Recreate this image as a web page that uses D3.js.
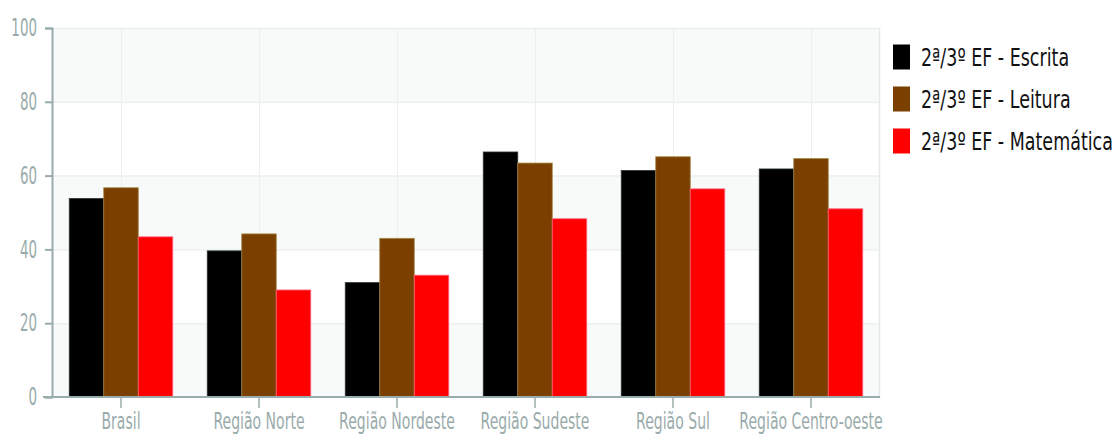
<!DOCTYPE html>
<html>
<head>
<meta charset="utf-8">
<script src="https://cdn.jsdelivr.net/npm/d3@7"></script>
<style>
  body { margin: 0; background: #fff; }
  svg { display: block; font-family: "DejaVu Sans", Verdana, sans-serif; }
</style>
</head>
<body>
<svg id="chart"></svg>
<script>
const width = 1119;
const height = 436;

const regions = ["Brasil", "Região Norte", "Região Nordeste", "Região Sudeste", "Região Sul", "Região Centro-oeste"];
const seriesNames = ["2ª/3º EF - Escrita", "2ª/3º EF - Leitura", "2ª/3º EF - Matemática"];
const seriesColors = ["#000000", "#7b3f00", "#ff0000"];
const escrita = [53.8, 39.6, 31.0, 66.4, 61.4, 61.8];
const leitura = [56.7, 44.2, 43.0, 63.4, 65.1, 64.6];
const matematica = [43.4, 29.0, 33.0, 48.3, 56.4, 51.0];
const yTicks = [0, 20, 40, 60, 80, 100];

const seriesValues = [escrita, leitura, matematica];

const plotLeft = 52, plotRight = 880, plotTop = 28, plotBottom = 397;

let svg = d3.select("#chart").attr("width", width).attr("height", height);

let x0 = d3.scaleBand().domain(regions).range([plotLeft, plotRight]);
let x1 = d3.scaleBand()
  .domain(d3.range(seriesNames.length))
  .range([x0.bandwidth() * 0.125, x0.bandwidth() * 0.875]);
let y = d3.scaleLinear().domain([0, 100]).range([plotBottom, plotTop]);

// alternating background bands
let bands = d3.range(0, yTicks.length - 1).filter(i => i % 2 === 0);
svg.selectAll(".band")
  .data(bands)
  .enter()
  .append("rect")
  .attr("x", plotLeft)
  .attr("width", plotRight - plotLeft)
  .attr("y", i => y(yTicks[i + 1]))
  .attr("height", i => y(yTicks[i]) - y(yTicks[i + 1]))
  .attr("fill", "#f8fafa");

// grid lines
svg.selectAll(".hgrid")
  .data(yTicks.slice(1))
  .enter()
  .append("line")
  .attr("x1", plotLeft)
  .attr("x2", plotRight)
  .attr("y1", d => y(d) + 0.5)
  .attr("y2", d => y(d) + 0.5)
  .attr("stroke", "#eceff0")
  .attr("stroke-width", 1.5);

svg.selectAll(".vgrid")
  .data(regions)
  .enter()
  .append("line")
  .attr("x1", d => Math.round(x0(d) + x0.bandwidth() / 2) + 0.5)
  .attr("x2", d => Math.round(x0(d) + x0.bandwidth() / 2) + 0.5)
  .attr("y1", plotTop)
  .attr("y2", plotBottom)
  .attr("stroke", "#eceff0");

svg.append("line")
  .attr("x1", plotRight - 0.5)
  .attr("x2", plotRight - 0.5)
  .attr("y1", plotTop)
  .attr("y2", plotBottom)
  .attr("stroke", "#e4e9e9")
  .attr("stroke-width", 1.5);

// bars
let groups = svg.selectAll(".group")
  .data(regions)
  .enter()
  .append("g")
  .attr("transform", d => `translate(${x0(d)},0)`);

const strokeColors = ["#2a3434", "#a08840", "#ff6080"];
groups.selectAll("rect")
  .data((d, i) => seriesValues.map((vals, s) => ({ s: s, v: vals[i] })))
  .enter()
  .append("rect")
  .attr("x", d => x1(d.s))
  .attr("width", x1.bandwidth())
  .attr("y", d => y(d.v))
  .attr("height", d => plotBottom - y(d.v))
  .attr("fill", d => seriesColors[d.s])
  .attr("stroke", d => strokeColors[d.s])
  .attr("stroke-width", 0.8);

// axes
const axisColor = "#9aabab";
const ySx = 0.56, xSx = 0.61;

let yAxis = svg.append("g")
  .attr("transform", `translate(${plotLeft},0)`)
  .call(d3.axisLeft(y).tickValues(yTicks).tickSize(7).tickPadding(14));
yAxis.select(".domain").attr("stroke", axisColor).attr("stroke-width", 2);
yAxis.selectAll(".tick line").attr("stroke", axisColor).attr("stroke-width", 2);
yAxis.selectAll(".tick text")
  .attr("fill", axisColor)
  .attr("font-size", 24)
  .attr("font-family", "DejaVu Sans, sans-serif")
  .attr("x", -15 / ySx)
  .attr("transform", `scale(${ySx},1)`);

let xAxis = svg.append("g")
  .attr("transform", `translate(0,${plotBottom})`)
  .call(d3.axisBottom(x0).tickSize(11).tickPadding(6).tickSizeOuter(0));
xAxis.select(".domain")
  .attr("d", `M${plotLeft - 9},0H${plotRight}`)
  .attr("stroke", axisColor)
  .attr("stroke-width", 2);
xAxis.selectAll(".tick line").attr("stroke", axisColor).attr("stroke-width", 1.5);
xAxis.selectAll(".tick text")
  .attr("fill", axisColor)
  .attr("font-size", 23)
  .attr("font-family", "DejaVu Sans, sans-serif")
  .attr("y", 32)
  .attr("dy", 0)
  .attr("transform", `scale(${xSx},1)`);

// legend
let legend = svg.append("g").attr("transform", "translate(893,0)");
let items = legend.selectAll(".legend")
  .data(seriesNames)
  .enter()
  .append("g")
  .attr("transform", (d, i) => `translate(0,${57 + i * 42})`);

items.append("rect")
  .attr("x", 0)
  .attr("y", -12.5)
  .attr("width", 17)
  .attr("height", 25)
  .attr("fill", (d, i) => seriesColors[i]);

const legSx = 0.7;
items.append("text")
  .text(d => d)
  .attr("x", 28 / legSx)
  .attr("y", 0)
  .attr("dy", "0.36em")
  .attr("font-size", 25)
  .attr("fill", "#111")
  .attr("transform", `scale(${legSx},1)`);
</script>
</body>
</html>
